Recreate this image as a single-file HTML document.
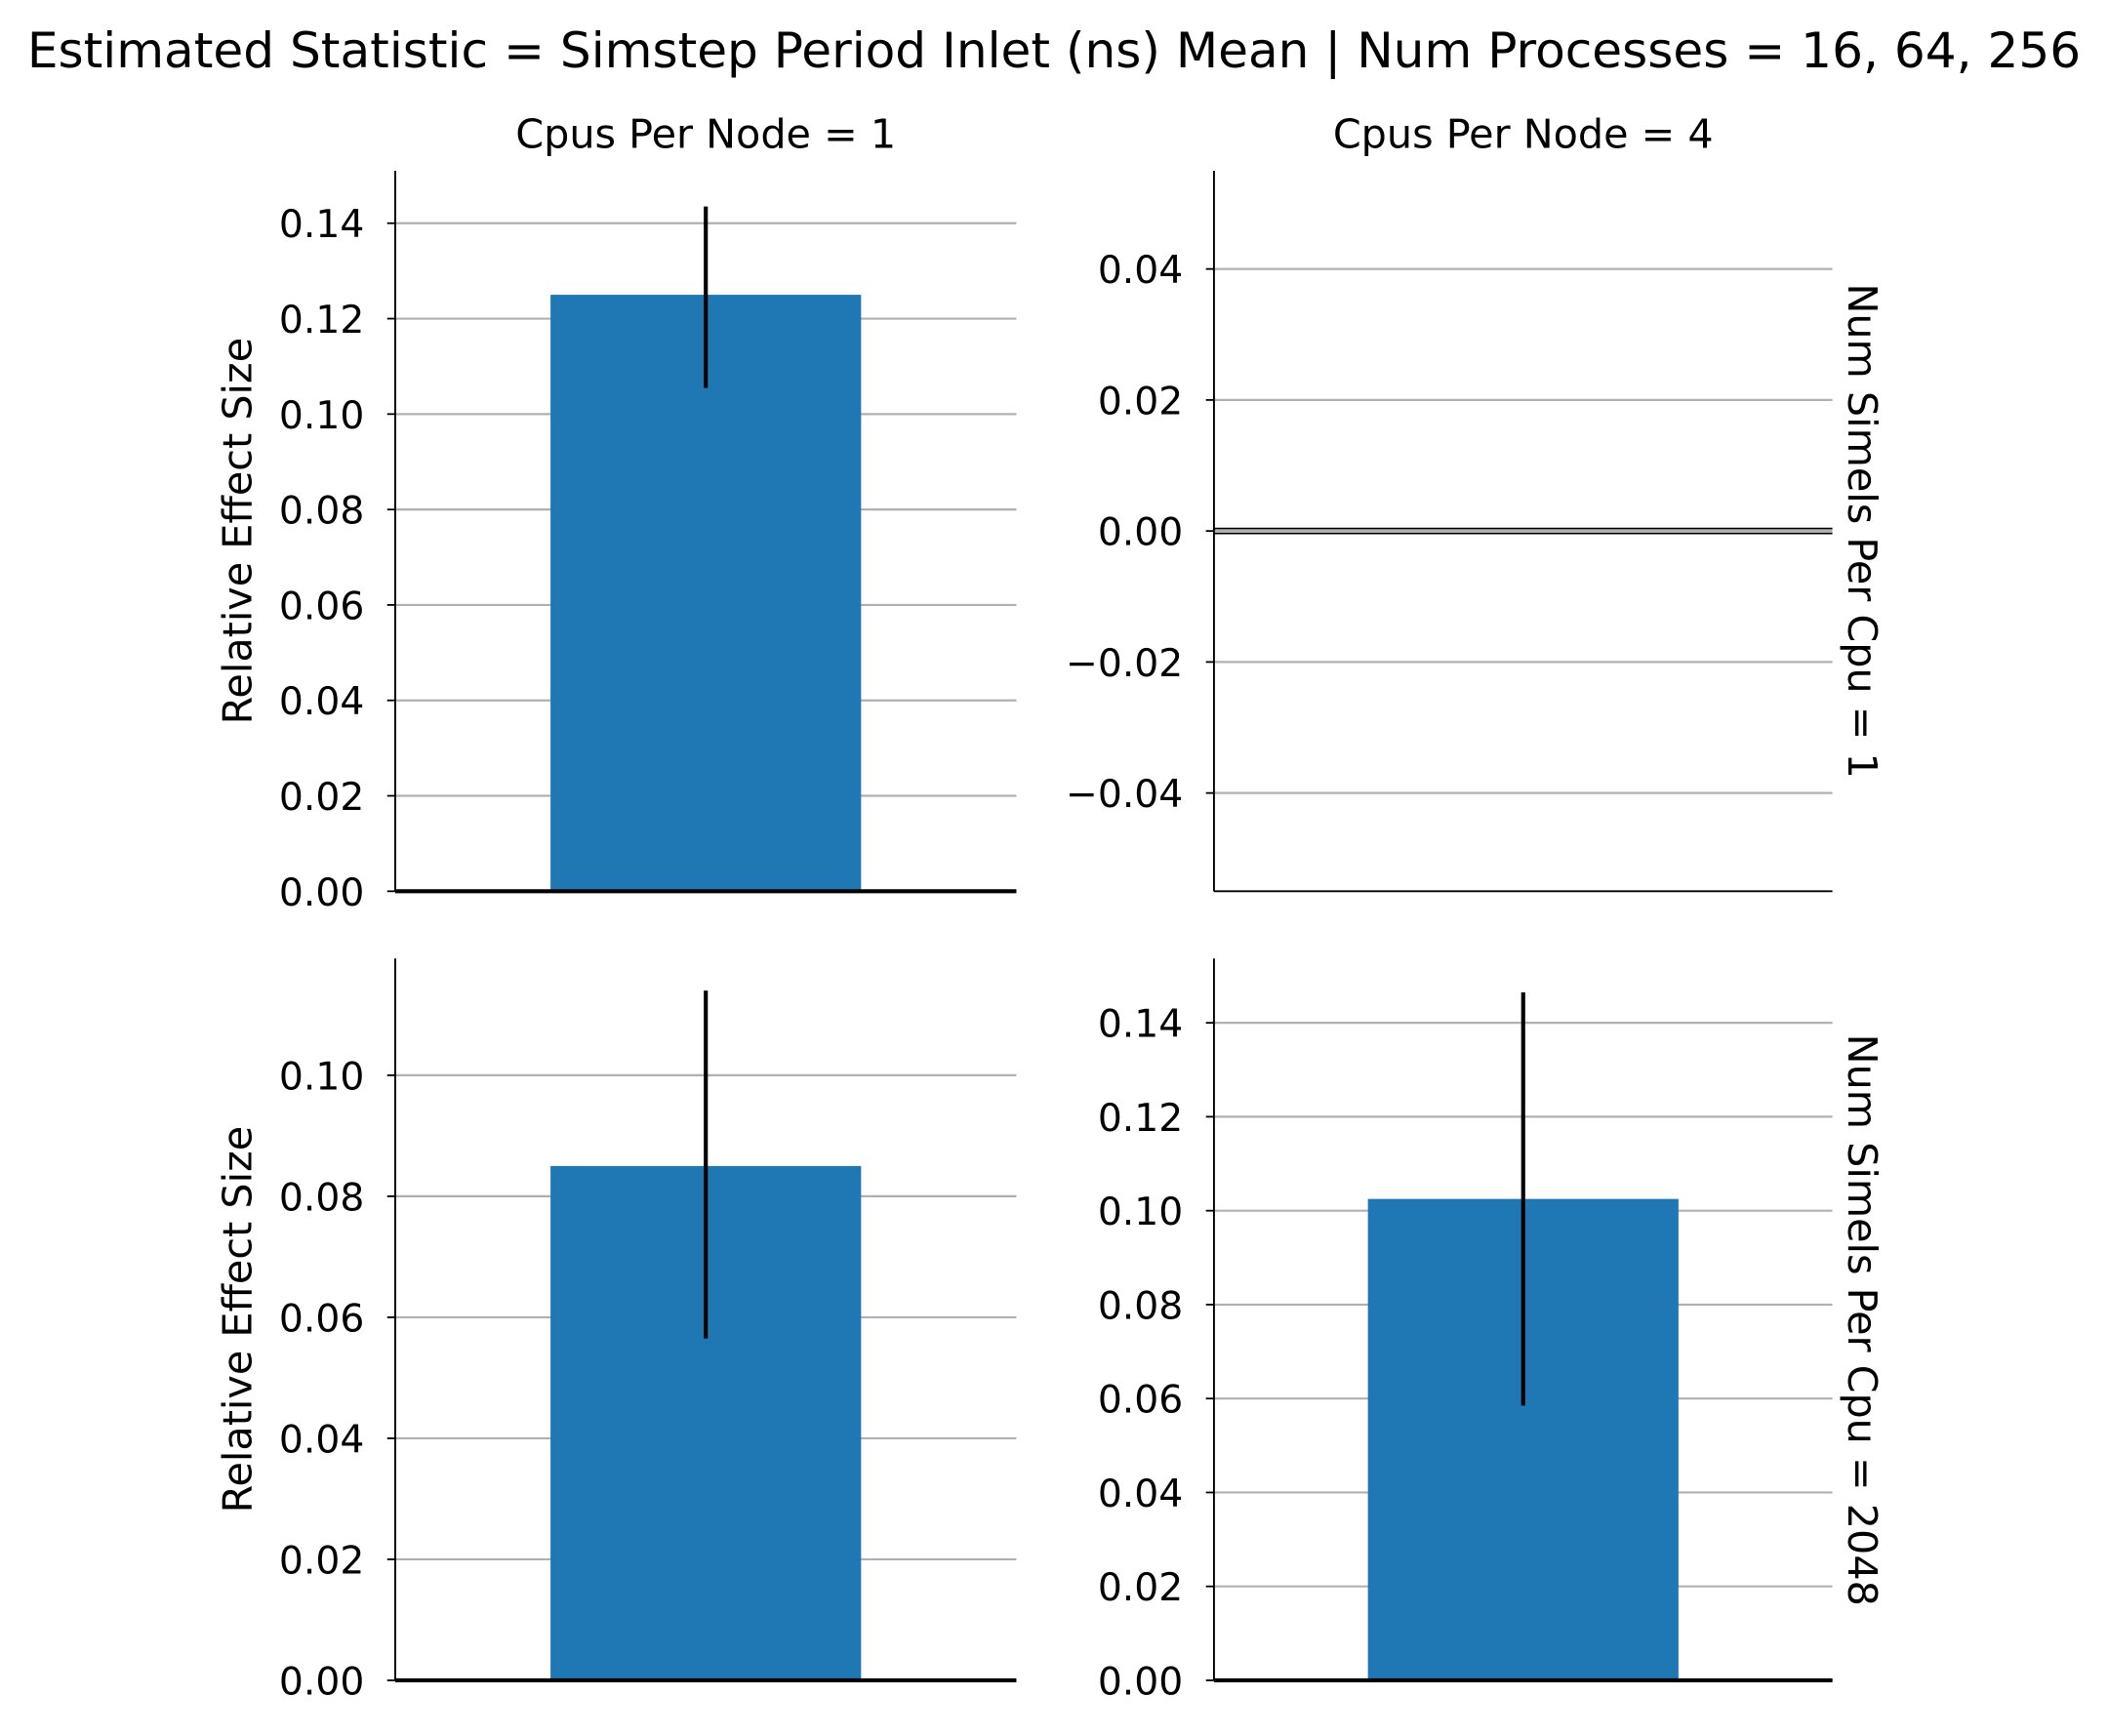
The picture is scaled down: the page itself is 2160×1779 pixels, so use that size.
<!DOCTYPE html>
<html><head><meta charset="utf-8"><style>
html,body{margin:0;padding:0;background:#fff;}
svg{display:block;}
text{font-family:"DejaVu Sans","Liberation Sans",sans-serif;fill:#000;}
</style></head><body>
<svg id="chart" width="2160" height="1779" viewBox="0 0 1568 1291.4" preserveAspectRatio="none" xmlns="http://www.w3.org/2000/svg">
<text x="784" y="50" font-size="36.4" text-anchor="middle">Estimated Statistic = Simstep Period Inlet (ns) Mean | Num Processes = 16, 64, 256</text>
<text x="525" y="110" font-size="30" text-anchor="middle">Cpus Per Node = 1</text>
<text x="1133" y="110" font-size="30" text-anchor="middle">Cpus Per Node = 4</text>
<text transform="translate(1375,395) rotate(90)" font-size="30" text-anchor="middle">Num Simels Per Cpu = 1</text>
<text transform="translate(1375,982) rotate(90)" font-size="30" text-anchor="middle">Num Simels Per Cpu = 2048</text>
<g id="panels"></g>
</svg>
<script>
const panelNames = ["panel-cpn1-sim1","panel-cpn4-sim1","panel-cpn1-sim2048","panel-cpn4-sim2048"];
const barValues = [0.125, 0.0, 0.085, 0.1025];
const errLow = [0.1055, 0.0, 0.0565, 0.0585];
const errHigh = [0.1435, 0.0, 0.114, 0.1465];
const yMins = [0, -0.055, 0, 0];
const yMaxs = [0.151, 0.055, 0.1193, 0.1537];
const tickLabels = [
  ["0.00","0.02","0.04","0.06","0.08","0.10","0.12","0.14"],
  ["\u22120.04","\u22120.02","0.00","0.02","0.04"],
  ["0.00","0.02","0.04","0.06","0.08","0.10"],
  ["0.00","0.02","0.04","0.06","0.08","0.10","0.12","0.14"]
];
const tickValues = [
  [0,0.02,0.04,0.06,0.08,0.10,0.12,0.14],
  [-0.04,-0.02,0,0.02,0.04],
  [0,0.02,0.04,0.06,0.08,0.10],
  [0,0.02,0.04,0.06,0.08,0.10,0.12,0.14]
];
const boxes = [[294,756,127,663],[903,1363,127,663],[294,756,713,1250],[903,1363,713,1250]];
const NS="http://www.w3.org/2000/svg";
const root=document.getElementById('panels');
function mk(tag,attrs,parent){const e=document.createElementNS(NS,tag);for(const k in attrs)e.setAttribute(k,attrs[k]);parent.appendChild(e);return e;}
for(let i=0;i<4;i++){
  const [x0,x1,yt,yb]=boxes[i];
  const y=v=>yb-(v-yMins[i])/(yMaxs[i]-yMins[i])*(yb-yt);
  const g=mk('g',{},root);
  
  
  tickValues[i].forEach((tv,j)=>{
    const gl=mk('line',{x1:x0,x2:x1,y1:y(tv),y2:y(tv),stroke:'#b0b0b0','stroke-width':1.6},g);
    
    
    mk('line',{x1:x0-6,x2:x0,y1:y(tv),y2:y(tv),stroke:'#000','stroke-width':1.3},g);
    const t=mk('text',{x:x0-23,y:y(tv)+10.5,'font-size':28.5,'text-anchor':'end'},g);
    t.textContent=tickLabels[i][j];
    
    
  });
  const cx=(x0+x1)/2, bw=231;
  const v=barValues[i];
  const b=mk('rect',{x:cx-bw/2,width:bw,y:Math.min(y(v),y(0)),height:Math.abs(y(0)-y(v)),fill:'#1f77b4'},g);
  
  
  if(errHigh[i]!==errLow[i]){
    const e=mk('line',{x1:cx,x2:cx,y1:y(errLow[i]),y2:y(errHigh[i]),stroke:'#000','stroke-width':3},g);
    
    
  }
  if(yMins[i]<0){
    mk('line',{x1:x0,x2:x1,y1:y(0)-1.8,y2:y(0)-1.8,stroke:'#000','stroke-width':1.3},g);
    mk('line',{x1:x0,x2:x1,y1:y(0)+1.8,y2:y(0)+1.8,stroke:'#000','stroke-width':1.3},g);
  } else {
    mk('line',{x1:x0,x2:x1,y1:y(0),y2:y(0),stroke:'#000','stroke-width':3},g);
  }
  const ax=mk('line',{x1:x0,x2:x0,y1:yt,y2:yb,stroke:'#000','stroke-width':1.4},g);
  
  
  mk('line',{x1:x0,x2:x1,y1:yb,y2:yb,stroke:'#000','stroke-width':1.4},g);
  if(i%2===0){
    const l=mk('text',{transform:`translate(187,${(yt+yb)/2}) rotate(-90)`,'font-size':30,'text-anchor':'middle'},g);
    l.textContent='Relative Effect Size';
    
    
  }
}
</script>
</body></html>
